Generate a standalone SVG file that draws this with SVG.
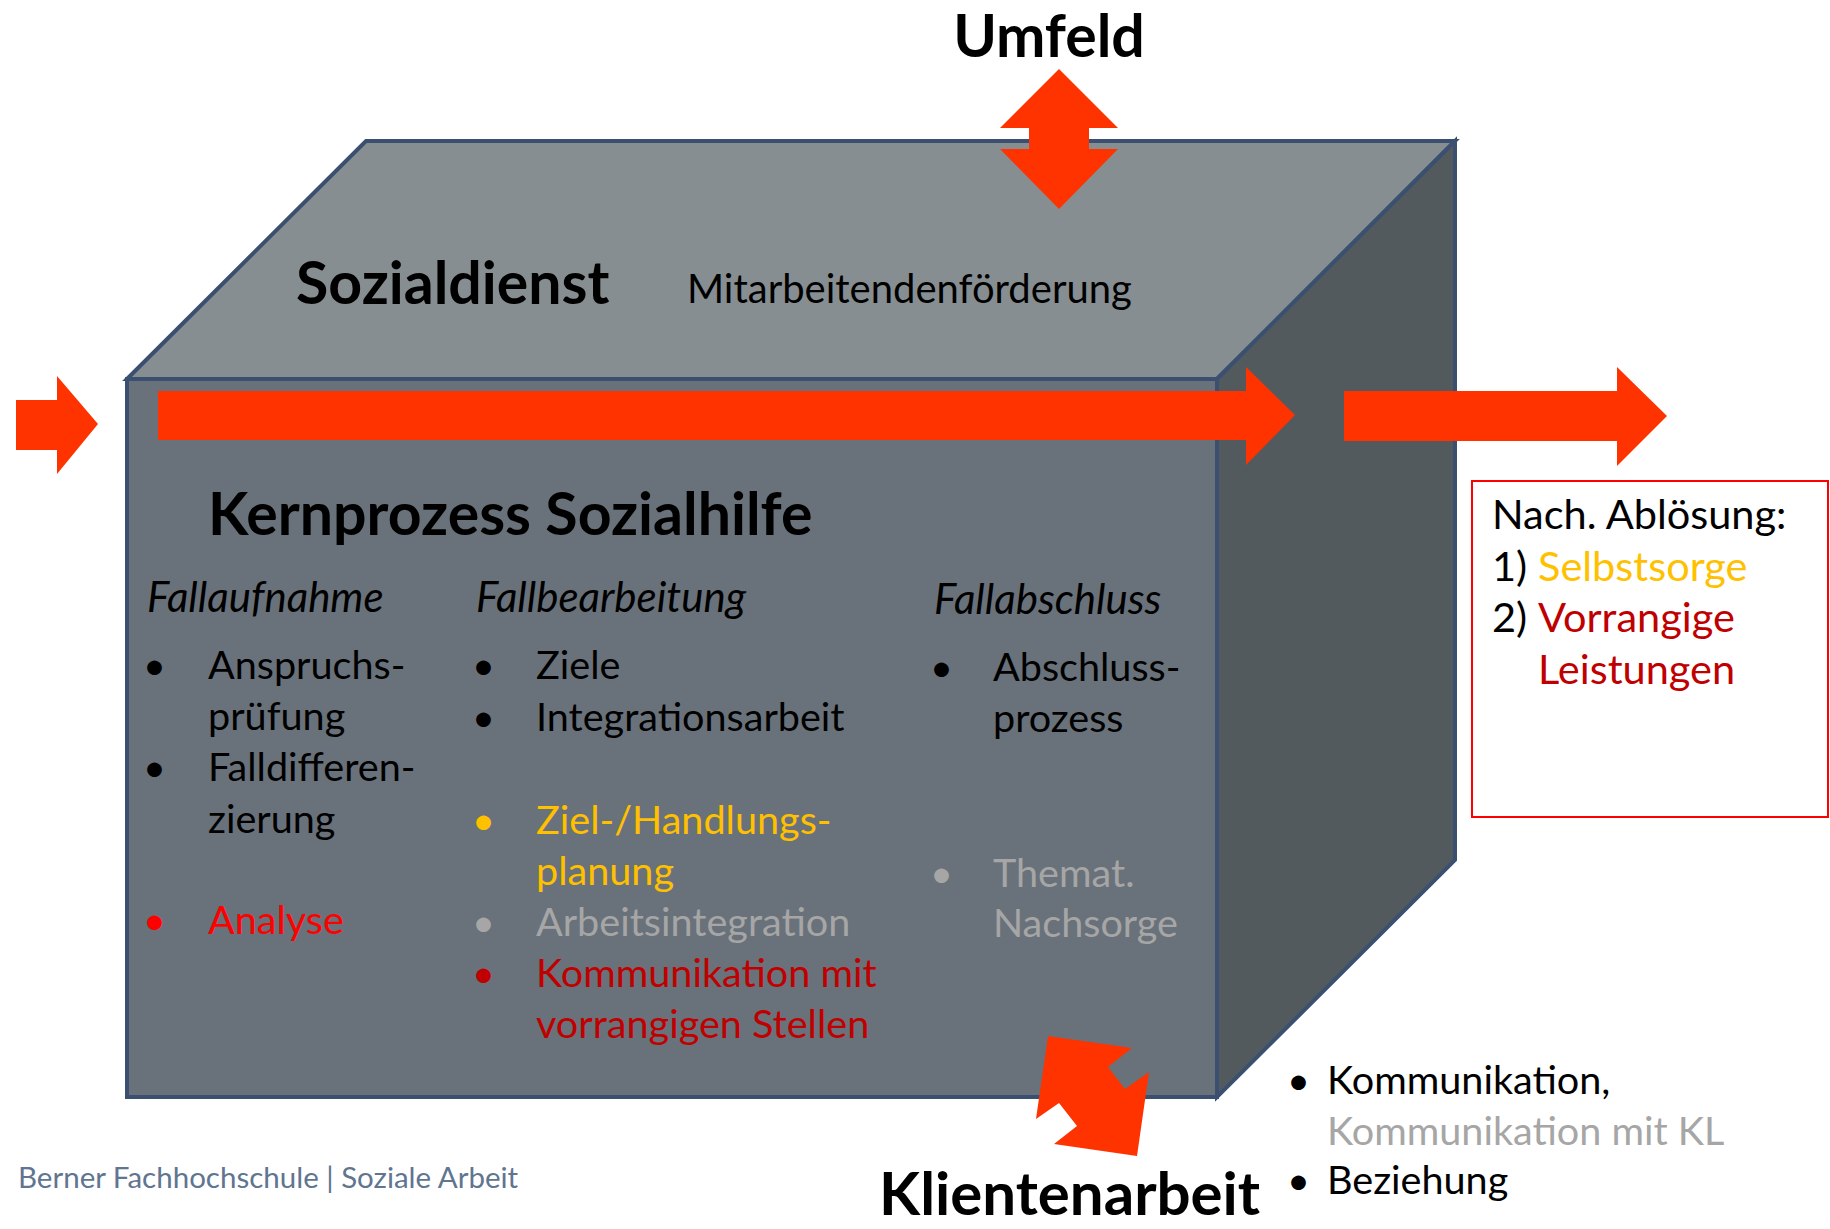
<svg xmlns="http://www.w3.org/2000/svg" width="1830" height="1229" viewBox="0 0 1830 1229">
<style>
.t{font-family:Lato,"Open Sans","Liberation Sans",sans-serif;}
.b{font-weight:bold;}
.body{font-size:39.6px;fill:#000;}
.box{font-size:41.5px;fill:#000;}
.hd{font-size:42px;font-style:italic;fill:#000;}
.ar{fill:#ff3300;}
.face{stroke:#3b5070;stroke-width:4;stroke-linejoin:miter;}
.yel{fill:#ffc000;}
.gry{fill:#a6a6a6;}
.red{fill:#ff0000;}
.dred{fill:#c00000;}
</style>
<rect width="1830" height="1229" fill="#ffffff"/>
<g id="cube">
<polygon class="face" points="127,379 366,141 1455,141 1217,379" fill="#878e91"/>
<polygon class="face" points="1217,379 1455,141 1455,860 1217,1097" fill="#535a5e"/>
<rect class="face" x="127" y="379" width="1090" height="718" fill="#69727a"/>
</g>
<g id="connectors">
<polygon class="ar" points="16,400 57,400 57,376 98,424 57,474 57,450 16,450"/>
<polygon class="ar" points="158,391 1246,391 1246,367 1295,415 1246,465 1246,440 158,440"/>
<polygon class="ar" points="1344,391 1617,391 1617,367 1667,416 1617,466 1617,441 1344,441"/>
<polygon class="ar" points="1059,69 1118,128 1089,128 1089,149 1118,149 1059,209 1000,149 1029,149 1029,128 1000,128"/>
<polygon class="ar" points="1048,1036 1132,1048 1108,1067 1125,1089 1149,1072 1137,1156 1054,1144 1077,1126 1059,1103 1036,1119"/>
</g>
<g id="umfeld"><text class="t b" x="1049" y="57" font-size="59" text-anchor="middle">Umfeld</text></g>
<g id="sozialdienst">
<text class="t b" x="296" y="304" font-size="59">Sozialdienst</text>
<text class="t" x="687" y="303" font-size="40">Mitarbeitendenförderung</text>
</g>
<g id="kernprozess">
<text class="t b" x="208" y="535" font-size="59">Kernprozess Sozialhilfe</text>
</g>
<g id="fallaufnahme" class="t">
<text class="hd" x="147" y="612">Fallaufnahme</text>
<text class="body" x="143" y="679">•</text><text class="body" x="208" y="679">Anspruchs-</text>
<text class="body" x="208" y="730">prüfung</text>
<text class="body" x="143" y="781">•</text><text class="body" x="208" y="781">Falldifferen-</text>
<text class="body" x="208" y="833">zierung</text>
<text class="body red" x="143" y="934">•</text><text class="body red" x="208" y="934">Analyse</text>
</g>
<g id="fallbearbeitung" class="t">
<text class="hd" x="476" y="612">Fallbearbeitung</text>
<text class="body" x="472" y="679">•</text><text class="body" x="536" y="679">Ziele</text>
<text class="body" x="472" y="731">•</text><text class="body" x="536" y="731">Integrationsarbeit</text>
<text class="body yel" x="472" y="834">•</text><text class="body yel" x="536" y="834">Ziel-/Handlungs-</text>
<text class="body yel" x="536" y="885">planung</text>
<text class="body gry" x="472" y="936">•</text><text class="body gry" x="536" y="936">Arbeitsintegration</text>
<text class="body dred" x="472" y="987">•</text><text class="body dred" x="536" y="987">Kommunikation mit</text>
<text class="body dred" x="536" y="1038">vorrangigen Stellen</text>
</g>
<g id="fallabschluss" class="t">
<text class="hd" x="934" y="614">Fallabschluss</text>
<text class="body" x="930" y="681">•</text><text class="body" x="993" y="681">Abschluss-</text>
<text class="body" x="993" y="732">prozess</text>
<text class="body gry" x="930" y="887">•</text><text class="body gry" x="993" y="887">Themat.</text>
<text class="body gry" x="993" y="937">Nachsorge</text>
</g>
<g id="abloesung" class="t">
<rect x="1472" y="481" width="356" height="336" fill="#ffffff" stroke="#ff0000" stroke-width="2"/>
<text class="box" x="1492" y="529">Nach. Ablösung:</text>
<text class="box" x="1492" y="581">1)</text><text class="box yel" x="1538" y="581">Selbstsorge</text>
<text class="box" x="1492" y="632">2)</text><text class="box dred" x="1538" y="632">Vorrangige</text>
<text class="box dred" x="1538" y="684">Leistungen</text>
</g>
<g id="klientenarbeit" class="t">
<text class="b" x="879" y="1215" font-size="60">Klientenarbeit</text>
<text class="body" x="1287" y="1094">•</text><text class="body" x="1327" y="1094">Kommunikation,</text>
<text class="body gry" x="1327" y="1145">Kommunikation mit KL</text>
<text class="body" x="1287" y="1194">•</text><text class="body" x="1327" y="1194">Beziehung</text>
</g>
<g id="footer"><text class="t" x="18" y="1188" font-size="29.5" fill="#5f7590">Berner Fachhochschule | Soziale Arbeit</text></g>
</svg>
